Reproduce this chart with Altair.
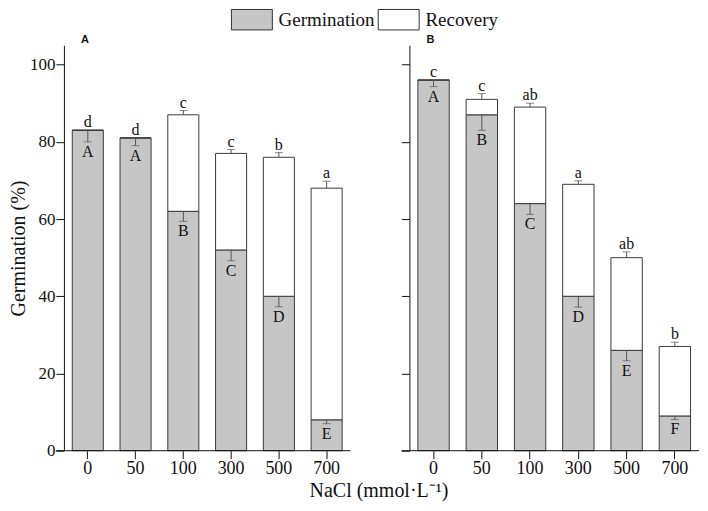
import altair as alt
import pandas as pd

conc = ["0", "50", "100", "300", "500", "700"]
series_names = ["Germination", "Recovery"]

# Panel A
A_germ = [83, 81, 62, 52, 40, 8]
A_total = [83, 81, 87, 77, 76, 68]
A_germ_err = [3, 2, 2.6, 2.8, 2.7, 1]
A_rec_err = [0, 0, 1.1, 1.0, 1.2, 1.8]
A_lower = ["d", "d", "c", "c", "b", "a"]
A_upper = ["A", "A", "B", "C", "D", "E"]

# Panel B
B_germ = [96, 87, 64, 40, 26, 9]
B_total = [96, 91, 89, 69, 50, 27]
B_germ_err = [1.7, 4, 2.8, 2.8, 2.7, 0.9]
B_rec_err = [0, 1.5, 1.0, 0.9, 1.5, 1.1]
B_lower = ["c", "c", "ab", "a", "ab", "b"]
B_upper = ["A", "B", "C", "D", "E", "F"]

SERIF = "Liberation Serif"
INK = "#111111"
H = 406


def panel(germ, total, gerr, rerr, lower, upper, label, first, w):
    rows = []
    for i, c in enumerate(conc):
        rows.append(dict(conc=c, series="Germination", lo=0, hi=germ[i]))
        rows.append(dict(conc=c, series="Recovery", lo=germ[i], hi=total[i]))
    bars_df = pd.DataFrame(rows)
    err_rows = []
    for i, c in enumerate(conc):
        if gerr[i] > 0:
            err_rows.append(dict(conc=c, start=germ[i], end=germ[i] - gerr[i]))
        if rerr[i] > 0:
            err_rows.append(dict(conc=c, start=total[i], end=total[i] + rerr[i]))
    err_df = pd.DataFrame(err_rows)
    lab_df = pd.DataFrame(dict(
        conc=conc,
        top=[t + r for t, r in zip(total, rerr)],
        bot=[g - e for g, e in zip(germ, gerr)],
        lower=lower, upper=upper))

    x = alt.X("conc:N", sort=conc, title=None,
              scale=alt.Scale(paddingInner=0.35, paddingOuter=0.175),
              axis=alt.Axis(labelAngle=0, labelFont=SERIF, labelFontSize=18,
                            labelColor=INK, tickSize=8, tickColor=INK,
                            domain=False, labelPadding=1))
    if first:
        yaxis = alt.Axis(values=[0, 20, 40, 60, 80, 100], tickSize=8,
                         tickColor=INK, domainColor=INK, grid=False,
                         labelFont=SERIF, labelFontSize=17, labelColor=INK,
                         labelPadding=1, title="Germination (%)",
                         titleFont=SERIF, titleFontSize=20,
                         titleFontWeight="normal", titleColor=INK,
                         titlePadding=1)
    else:
        yaxis = alt.Axis(values=[0, 20, 40, 60, 80, 100], tickSize=8,
                         tickColor=INK, domainColor=INK, grid=False,
                         labels=False, title=None)
    y = alt.Y("hi:Q", scale=alt.Scale(domain=[0, 105], nice=False), axis=yaxis)

    bars = alt.Chart(bars_df).mark_bar(stroke="#3a3a3a", strokeWidth=1).encode(
        x=x, y=y, y2="lo:Q",
        color=alt.Color("series:N",
                        scale=alt.Scale(domain=series_names, range=["#c6c6c6", "#ffffff"]),
                        legend=alt.Legend(orient="none", legendX=167, legendY=-37,
                                          direction="horizontal", title=None,
                                          symbolType="M-1,-1L3,-1L3,1L-1,1Z",
                                          symbolSize=420, symbolStrokeColor="#333333",
                                          symbolStrokeWidth=1, labelFont=SERIF,
                                          labelFontSize=19, labelColor=INK,
                                          columnPadding=0, labelOffset=26, padding=0))
    )
    rules = alt.Chart(err_df).mark_rule(color="#555555", strokeWidth=1).encode(
        x=alt.X("conc:N", sort=conc), y="start:Q", y2="end:Q")
    caps = alt.Chart(err_df).mark_tick(color="#555555", size=8, thickness=1).encode(
        x=alt.X("conc:N", sort=conc), y="end:Q")
    lower_t = alt.Chart(lab_df).mark_text(font=SERIF, fontSize=16, color=INK,
                                          baseline="alphabetic", dy=-3).encode(
        x=alt.X("conc:N", sort=conc), y="top:Q", text="lower:N")
    upper_t = alt.Chart(lab_df).mark_text(font=SERIF, fontSize=16, color=INK,
                                          baseline="top", dy=2).encode(
        x=alt.X("conc:N", sort=conc), y="bot:Q", text="upper:N")
    baseline = alt.Chart(pd.DataFrame({"k": [0]})).mark_rule(color=INK, strokeWidth=1).encode(
        x=alt.value(-8), x2=alt.value(w), y=alt.value(H))

    return alt.layer(bars, rules, caps, lower_t, upper_t, baseline).properties(
        width=w, height=H,
        title=alt.TitleParams(text=label, anchor="start", frame="group", dx=17, offset=0,
                              fontSize=11, font="Liberation Sans",
                              fontWeight="bold", color=INK))


left = panel(A_germ, A_total, A_germ_err, A_rec_err, A_lower, A_upper, "A", True, 287)
right = panel(B_germ, B_total, B_germ_err, B_rec_err, B_lower, B_upper, "B", False, 290)

chart = alt.hconcat(left, right, spacing=49).properties(
    title=alt.TitleParams(text="NaCl (mmol·L⁻¹)", orient="bottom", anchor="middle",
                          font=SERIF, fontSize=20, fontWeight="normal",
                          offset=3, dx=25, color=INK),
    padding=0,
).configure_view(stroke=None)

chart.save("out.html", embed_options={"renderer": "svg", "actions": False})
